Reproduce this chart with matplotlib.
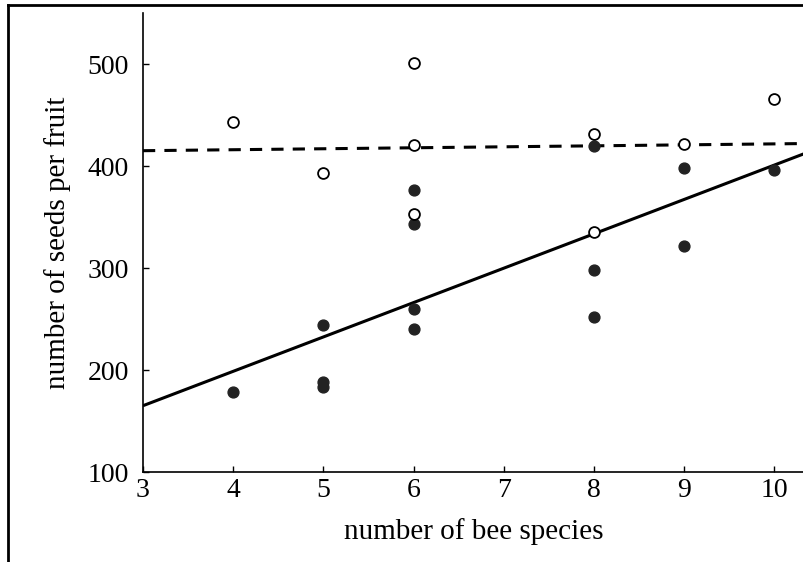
import numpy as np
import matplotlib
matplotlib.use('Agg')
import matplotlib.pyplot as plt
from matplotlib.lines import Line2D

# open circles
open_x = [4, 5, 6, 6, 6, 8, 8, 9, 10]
open_y = [443, 393, 501, 421, 353, 431, 335, 422, 466]

# filled circles
filled_x = [4, 5, 5, 5, 6, 6, 6, 6, 8, 8, 8, 9, 9, 10]
filled_y = [178, 244, 188, 183, 376, 343, 260, 240, 420, 298, 252, 398, 322, 396]

# fitted lines (end points)
fit_x = [3, 10.33]
fit_filled_y = [165, 412]
fit_open_y = [415, 422]

x_ticks = [3, 4, 5, 6, 7, 8, 9, 10]
y_ticks = [100, 200, 300, 400, 500]

plt.rcParams['font.family'] = ['Liberation Serif', 'DejaVu Serif']
tick_size = 20
label_size = 21

fig = plt.figure(figsize=(8.04, 5.62), dpi=100)
ax = fig.add_axes([143 / 804, 1 - 472 / 562, 1 - 143 / 804, (472 - 13) / 562])

ax.plot(fit_x, fit_filled_y, color='black', linewidth=2.2, solid_capstyle='butt', zorder=2)
ax.plot(fit_x, fit_open_y, color='black', linewidth=2.2, linestyle=(0, (4, 3)), zorder=2)

ax.plot(filled_x, filled_y, linestyle='none', marker='o', markersize=7.8,
        markerfacecolor='#222222', markeredgecolor='#222222', zorder=3)
ax.plot(open_x, open_y, linestyle='none', marker='o', markersize=7.8,
        markerfacecolor='white', markeredgecolor='black', markeredgewidth=1.3, zorder=3)

ax.set_xlim(3, 10.33)
ax.set_ylim(100, 550)
ax.set_xticks(x_ticks)
ax.set_yticks(y_ticks)
ax.tick_params(axis='both', direction='in', length=4, width=1, labelsize=tick_size)
ax.tick_params(axis='x', pad=4)
ax.tick_params(axis='y', pad=10)

for side in ['top', 'right']:
    ax.spines[side].set_visible(False)
for side in ['left', 'bottom']:
    ax.spines[side].set_linewidth(1.2)

ax.set_xlabel('number of bee species', fontsize=label_size, labelpad=11)
ax.set_ylabel('number of seeds per fruit', fontsize=label_size, labelpad=12)

# outer frame (left and top only)
fig.add_artist(Line2D([8 / 804, 8 / 804], [0, 1 - 5 / 562], transform=fig.transFigure,
                      color='black', linewidth=2))
fig.add_artist(Line2D([8 / 804, 1], [1 - 5 / 562, 1 - 5 / 562], transform=fig.transFigure,
                      color='black', linewidth=2))

fig.savefig('out.png', dpi=100)
